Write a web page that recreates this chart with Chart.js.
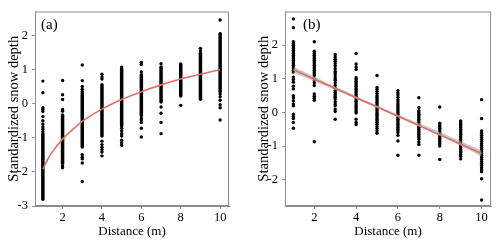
<!DOCTYPE html>
<html><head><meta charset="utf-8">
<script src="https://cdn.jsdelivr.net/npm/chart.js@4"></script>
<style>
html,body{margin:0;padding:0;background:#fff;}
#wrap{position:relative;width:500px;height:246px;}
canvas{position:absolute;top:0;}
</style></head>
<body><div id="wrap"><canvas id="ca" width="250" height="246" style="left:0"></canvas><canvas id="cb" width="250" height="246" style="left:250px"></canvas></div>
<script>
const distances = [1,2,3,4,5,6,7,8,9,10];
const xTicks = [2,4,6,8,10];
const aYTicks = [-3,-2,-1,0,1,2];
const bYTicks = [-2,-1,0,1,2];

// Panel (a): isolated points per distance
const aIsolated = [
  [0.66,0.32,-0.12,-0.17,-0.23,-0.38,-0.5,-0.6,-0.68,-0.75,-0.82],
  [0.68,0.26,0.12,-0.17,-0.22,-1.82,-1.88],
  [1.13,0.67,0.5,0.42,0.35,0.3,-1.5,-1.57,-1.62,-1.74,-2.28],
  [0.86,0.78,0.72,-1.1,-1.2,-1.28,-1.35,-1.42,-1.53],
  [1.07,-0.72,-0.8,-0.88,-0.95,-1.07,-1.15,-1.22],
  [1.21,1.15,0.93,-0.42,-0.47,-0.55,-0.72,-0.98],
  [1.17,-0.1,-0.28,-0.55,-0.88],
  [-0.05],
  [1.62,1.55],
  [2.45,0.28,0.2,0.1,-0.03,-0.12,-0.48]
];
// Panel (a): extent of the solid (overlapping) runs of points per distance
const aRunLow  = [-2.8,-1.75,-1.27,-0.95,-0.65,-0.35,0.05,0.22,0.13,0.35];
const aRunHigh = [-0.88,-0.33,0.25,0.55,1.02,0.85,1.07,1.16,1.48,2.05];
// Panel (a): fitted curve
const aCurveX = [1,1.25,1.5,2,2.5,3,4,5,6,7,8,9,10];
const aCurveY = [-1.92,-1.63,-1.4,-1.04,-0.76,-0.52,-0.16,0.12,0.35,0.55,0.72,0.86,1.0];

// Panel (b): points per distance
const bValues = [
  [2.78,2.52,2.1,2.05,2.0,1.95,1.9,1.85,1.8,1.75,1.7,1.65,1.6,1.55,1.5,1.45,1.4,1.35,1.3,1.25,1.2,1.05,0.98,0.9,0.78,0.7,0.5,0.44,0.35,0.25,0.2,-0.05,-0.12,-0.18,-0.3,-0.47],
  [2.1,1.82,1.75,1.7,1.65,1.6,1.55,1.5,1.45,1.4,1.35,1.3,1.25,1.2,1.15,1.1,1.0,0.95,0.88,0.8,0.55,0.48,0.42,0.36,-0.87],
  [1.72,1.65,1.58,1.52,1.45,1.38,1.3,1.22,1.18,1.12,1.05,1.0,0.95,0.88,0.8,0.72,0.65,0.6,0.55,0.5,0.45,0.4,0.32,0.25,0.2,0.1,0.03,-0.2],
  [1.75,1.44,1.35,1.28,1.03,0.98,0.93,0.88,0.83,0.78,0.73,0.68,0.63,0.58,0.53,0.48,0.43,0.38,0.33,0.28,0.23,0.18,0.13,0.08,0.03,-0.02,-0.2,-0.3,-0.36],
  [1.1,0.74,0.68,0.62,0.56,0.5,0.45,0.4,0.35,0.3,0.25,0.2,0.15,0.1,0.05,0.0,-0.05,-0.1,-0.15,-0.2,-0.25,-0.3,-0.35,-0.42,-0.48,-0.55,-0.62],
  [0.65,0.58,0.52,0.45,0.38,0.32,0.25,0.2,0.15,0.1,0.05,0.0,-0.05,-0.1,-0.15,-0.2,-0.25,-0.3,-0.35,-0.4,-0.45,-0.5,-0.55,-0.6,-0.68,-0.85,-1.27],
  [0.44,0.15,0.05,0.0,-0.05,-0.1,-0.15,-0.2,-0.25,-0.3,-0.35,-0.4,-0.45,-0.5,-0.55,-0.6,-0.65,-0.7,-0.75,-0.8,-0.88,-0.95,-1.27],
  [0.16,-0.32,-0.37,-0.42,-0.47,-0.52,-0.57,-0.62,-0.67,-0.72,-0.77,-0.82,-0.87,-0.93,-1.0,-1.4],
  [-0.25,-0.3,-0.35,-0.4,-0.45,-0.5,-0.55,-0.6,-0.65,-0.7,-0.75,-0.8,-0.85,-0.9,-0.95,-1.0,-1.05,-1.1,-1.15,-1.2,-1.25,-1.3,-1.38],
  [0.38,-0.18,-0.55,-0.62,-0.68,-0.74,-0.8,-0.86,-0.92,-0.98,-1.04,-1.1,-1.16,-1.22,-1.28,-1.34,-1.4,-1.46,-1.52,-1.58,-1.64,-1.7,-1.76,-1.97,-2.6]
];
// Panel (b): fitted line and confidence band
const bLineX = [1,10];
const bLineY = [1.27,-1.22];
const bBandX = [1,3,5.5,8,10];
const bBandUpper = [1.36,0.77,0.07,-0.58,-1.13];
const bBandLower = [1.18,0.67,0.0,-0.68,-1.31];

const FONT = "'Liberation Serif', 'DejaVu Serif', serif";
const AXIS = '#8c8c8c';
const RED = '#e2706a';

const frame = {
  id:'frame',
  afterDraw(chart, args, opts){
    const {ctx, chartArea:a} = chart;
    ctx.save();
    ctx.strokeStyle = AXIS; ctx.lineWidth = 1;
    ctx.strokeRect(a.left+0.5, a.top+0.5, a.right-a.left-1, a.bottom-a.top-1);
    ctx.fillStyle = '#000';
    ctx.font = "15px " + FONT;
    ctx.textBaseline = 'alphabetic';
    ctx.fillText(opts.label, a.left + opts.dx, a.top + 17);
    ctx.restore();
  }
};

function pts(x, ys){ return ys.map(y => ({x, y})); }

function scales(yMin, yMax, yTicks){
  return {
    x: {type:'linear', min:0.6, max:10.45,
      afterBuildTicks: s => { s.ticks = xTicks.map(v => ({value:v})); },
      afterFit: s => { s.height = 40; },
      grid:{drawOnChartArea:false, drawTicks:true, tickLength:3, color:AXIS},
      border:{display:true, color:AXIS},
      ticks:{font:{family:FONT, size:12.5}, color:'#000', padding:1, maxRotation:0},
      title:{display:true, text:'Distance (m)', font:{family:FONT, size:13}, color:'#000', padding:{top:0, bottom:7}}
    },
    y: {type:'linear', min:yMin, max:yMax,
      afterBuildTicks: s => { s.ticks = yTicks.map(v => ({value:v})); },
      afterFit: s => { s.width = 35; },
      grid:{drawOnChartArea:false, drawTicks:true, tickLength:3, color:AXIS},
      border:{display:true, color:AXIS},
      ticks:{font:{family:FONT, size:12.5}, color:'#000', padding:4},
      title:{display:true, text:'Standardized snow depth', font:{family:FONT, size:14.5}, color:'#000', padding:{top:5, bottom:0}}
    }
  };
}

const common = {
  responsive:false, animation:false,
  plugins:{legend:{display:false}, tooltip:{enabled:false}},
};

// Panel (a)
const aDatasets = [];
aDatasets.push({type:'line', data: aCurveX.map((x,i)=>({x, y:aCurveY[i]})), borderColor:RED, borderWidth:1.6, pointRadius:0, cubicInterpolationMode:'monotone', fill:false});
distances.forEach((d,i) => {
  aDatasets.push({type:'line', data:[{x:d, y:aRunLow[i]},{x:d, y:aRunHigh[i]}], borderColor:'#000', borderWidth:3.5, borderCapStyle:'round', pointRadius:0, fill:false});
  aDatasets.push({type:'scatter', data:pts(d, aIsolated[i]), pointRadius:1.7, pointBorderWidth:0, backgroundColor:'#000'});
});
new Chart(document.getElementById('ca'), {
  type:'scatter', data:{datasets:aDatasets},
  options:Object.assign({}, common, {
    layout:{padding:{top:9, right:21, left:0, bottom:0}},
    scales:scales(-3, 2.7, aYTicks),
    plugins:Object.assign({}, common.plugins, {frame:{label:'(a)', dx:6}})
  }),
  plugins:[frame]
});

// Panel (b)
const bDatasets = [];
bDatasets.push({type:'line', data: bLineX.map((x,i)=>({x, y:bLineY[i]})), borderColor:RED, borderWidth:1.6, pointRadius:0, fill:false});
bDatasets.push({type:'line', data: bBandX.map((x,i)=>({x, y:bBandUpper[i]})), borderWidth:0, borderColor:'rgba(0,0,0,0)', pointRadius:0, fill:'+1', backgroundColor:'rgba(165,165,165,0.6)', tension:0.3});
bDatasets.push({type:'line', data: bBandX.map((x,i)=>({x, y:bBandLower[i]})), borderWidth:0, borderColor:'rgba(0,0,0,0)', pointRadius:0, fill:false, tension:0.3});
distances.forEach((d,i) => {
  bDatasets.push({type:'scatter', data:pts(d, bValues[i]), pointRadius:1.7, pointBorderWidth:0, backgroundColor:'#000'});
});
new Chart(document.getElementById('cb'), {
  type:'scatter', data:{datasets:bDatasets},
  options:Object.assign({}, common, {
    layout:{padding:{top:9, right:9, left:0, bottom:0}},
    scales:scales(-2.78, 3.0, bYTicks),
    plugins:Object.assign({}, common.plugins, {frame:{label:'(b)', dx:18}})
  }),
  plugins:[frame]
});
</script>
</body></html>
